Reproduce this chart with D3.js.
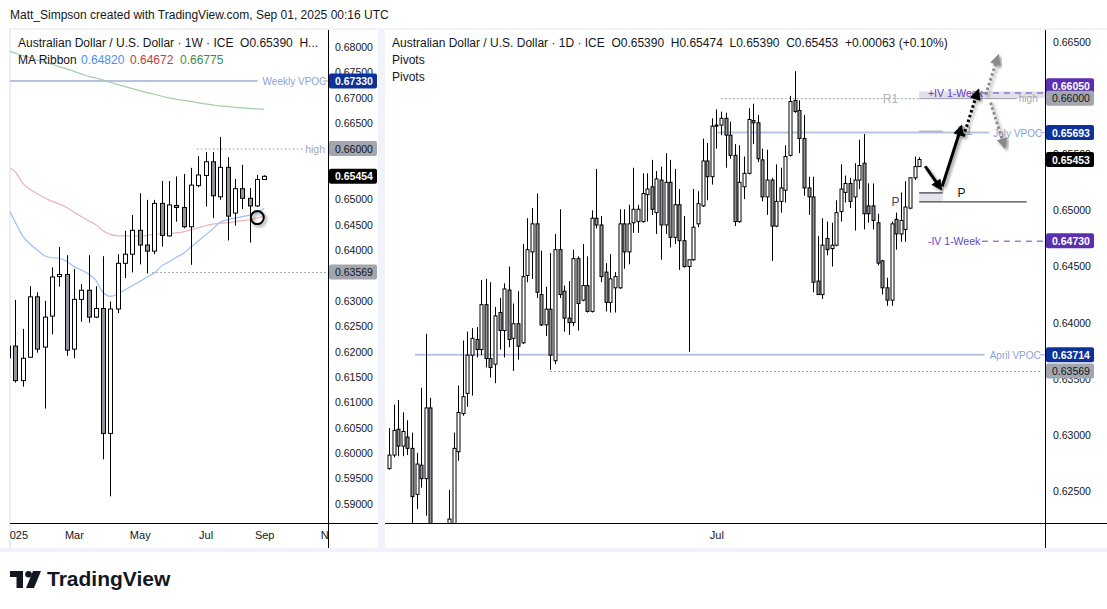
<!DOCTYPE html>
<html><head><meta charset="utf-8">
<script src="https://cdn.jsdelivr.net/npm/d3@7"></script>
<style>
body{margin:0;background:#fff;}
svg{display:block;}
text{font-family:"Liberation Sans",Arial,sans-serif;}
</style></head>
<body>
<svg id="c" width="1107" height="609"></svg>
<script>
// ---------------- DATA ----------------
// Weekly AUD/USD (first bar = week of 2024-12-30)
const weeklyStart = "2024-12-30";
const wOpen  = [0.6188,0.6211,0.6143,0.6189,0.6308,0.6209,0.6270,0.6348,0.6352,0.6205,0.6303,0.6321,0.6268,0.6285,0.6039,0.6284,0.6374,0.6392,0.6439,0.6410,0.6398,0.6492,0.6428,0.6488,0.6484,0.6446,0.6527,0.6547,0.6574,0.6505,0.6563,0.6473,0.6521,0.6502,0.6487,0.6539];
const wHigh  = [0.6240,0.6302,0.6245,0.6329,0.6317,0.6300,0.6366,0.6406,0.6390,0.6363,0.6333,0.6390,0.6329,0.6388,0.6299,0.6392,0.6438,0.6469,0.6512,0.6499,0.6499,0.6536,0.6536,0.6545,0.6550,0.6562,0.6585,0.6593,0.6593,0.6623,0.6583,0.6540,0.6568,0.6522,0.6548,0.65474];
const wLow   = [0.6180,0.6139,0.6131,0.6188,0.6198,0.6088,0.6234,0.6328,0.6192,0.6187,0.6259,0.6257,0.6266,0.5988,0.5915,0.6276,0.6345,0.6356,0.6372,0.6354,0.6392,0.6407,0.6427,0.6456,0.6443,0.6371,0.6524,0.6486,0.6463,0.6499,0.6419,0.6448,0.6481,0.6415,0.6485,0.6539];
const wClose = [0.6211,0.6143,0.6187,0.6308,0.6205,0.6268,0.6347,0.6352,0.6203,0.6303,0.6321,0.6268,0.6285,0.6039,0.6284,0.6374,0.6392,0.6439,0.6410,0.6398,0.6492,0.6429,0.6489,0.6484,0.6446,0.6528,0.6548,0.6574,0.6507,0.6563,0.6467,0.6521,0.6502,0.6487,0.6539,0.65454];
// MA Ribbon (weekly)
const maFast = [0.6483,0.6455,0.6428,0.6412,0.6400,0.6389,0.6385,0.6384,0.6378,0.6368,0.6361,0.6353,0.6341,0.6316,0.6309,0.6313,0.6322,0.6330,0.6338,0.6347,0.6355,0.6369,0.6377,0.6386,0.6394,0.6406,0.6418,0.6430,0.6442,0.6455,0.6460,0.6463,0.6466,0.6469,0.6474,0.64820];
const maMid  = [0.6564,0.6554,0.6532,0.6520,0.6511,0.6503,0.6496,0.6491,0.6484,0.6475,0.6466,0.6458,0.6450,0.6438,0.6431,0.6428,0.6428,0.6428,0.6428,0.6429,0.6431,0.6432,0.6433,0.6434,0.6436,0.6440,0.6444,0.6448,0.6451,0.6453,0.6454,0.6456,0.6458,0.6460,0.6463,0.64672];
const maSlow = [0.6793,0.6788,0.6783,0.6779,0.6774,0.6770,0.6766,0.6761,0.6757,0.6752,0.6747,0.6742,0.6739,0.6735,0.6730,0.6726,0.6722,0.6718,0.6714,0.6710,0.6707,0.6703,0.6700,0.6697,0.6695,0.6693,0.6690,0.6688,0.6686,0.6684,0.6683,0.6681,0.6680,0.6679,0.6678,0.66775];

// Daily AUD/USD (first bar = 2025-03-24, weekdays)
const dailyStart = "2025-03-24";
const dOpen  = [0.6270,0.6282,0.6305,0.6290,0.6298,0.6288,0.6247,0.6273,0.6261,0.6324,0.6040,0.6050,0.5975,0.6150,0.6215,0.6285,0.6319,0.6337,0.6371,0.6385,0.6376,0.6416,0.6368,0.6363,0.6409,0.6393,0.6429,0.6386,0.6399,0.6382,0.6442,0.6463,0.6488,0.6425,0.6398,0.6412,0.6366,0.6465,0.6428,0.6404,0.6400,0.6457,0.6420,0.6433,0.6410,0.6493,0.6487,0.6445,0.6418,0.6431,0.6431,0.6488,0.6463,0.6489,0.6490,0.6490,0.6514,0.6521,0.6498,0.6527,0.6487,0.6525,0.6476,0.6505,0.6473,0.6450,0.6456,0.6488,0.6504,0.6544,0.6530,0.6576,0.6576,0.6582,0.6567,0.6549,0.6490,0.6521,0.6533,0.6580,0.6578,0.6545,0.6512,0.6527,0.6486,0.6508,0.6518,0.6549,0.6598,0.6589,0.6564,0.6520,0.6512,0.6437,0.6425,0.6475,0.6466,0.6469,0.6499,0.6516,0.6524,0.6512,0.6527,0.6542,0.6504,0.6504,0.6489,0.6455,0.6431,0.6420,0.6492,0.6479,0.6483,0.6502,0.6529,0.6539];
const dHigh  = [0.6306,0.6327,0.6331,0.6320,0.6313,0.6302,0.6284,0.6342,0.6390,0.6333,0.6070,0.6100,0.6200,0.6251,0.6302,0.6344,0.6384,0.6392,0.6395,0.6396,0.6438,0.6439,0.6436,0.6414,0.6422,0.6435,0.6450,0.6417,0.6428,0.6470,0.6493,0.6502,0.6515,0.6464,0.6432,0.6462,0.6479,0.6501,0.6433,0.6437,0.6465,0.6459,0.6470,0.6459,0.6500,0.6537,0.6495,0.6453,0.6461,0.6445,0.6501,0.6501,0.6505,0.6538,0.6505,0.6533,0.6533,0.6545,0.6535,0.6539,0.6551,0.6545,0.6537,0.6519,0.6495,0.6456,0.6519,0.6517,0.6564,0.6560,0.6582,0.6590,0.6588,0.6587,0.6579,0.6559,0.6558,0.6548,0.6591,0.6595,0.6585,0.6555,0.6554,0.6529,0.6541,0.6538,0.6558,0.6602,0.6624,0.6598,0.6585,0.6530,0.6530,0.6477,0.6493,0.6490,0.6489,0.6509,0.6541,0.6531,0.6529,0.6542,0.6563,0.6568,0.6524,0.6524,0.6497,0.6456,0.6440,0.6490,0.6498,0.6516,0.6526,0.6529,0.6548,0.65474];
const dLow   = [0.6269,0.6280,0.6281,0.6281,0.6282,0.6210,0.6234,0.6253,0.6228,0.6030,0.5913,0.5960,0.5915,0.6120,0.6195,0.6277,0.6317,0.6325,0.6335,0.6369,0.6371,0.6360,0.6351,0.6346,0.6376,0.6369,0.6378,0.6357,0.6367,0.6381,0.6436,0.6439,0.6422,0.6397,0.6388,0.6358,0.6363,0.6422,0.6392,0.6389,0.6397,0.6393,0.6419,0.6409,0.6409,0.6484,0.6436,0.6410,0.6409,0.6409,0.6430,0.6448,0.6452,0.6480,0.6480,0.6489,0.6490,0.6496,0.6479,0.6456,0.6479,0.6467,0.6470,0.6447,0.6449,0.6374,0.6455,0.6485,0.6503,0.6509,0.6523,0.6555,0.6567,0.6538,0.6546,0.6486,0.6489,0.6510,0.6532,0.6559,0.6543,0.6508,0.6496,0.6455,0.6485,0.6498,0.6507,0.6548,0.6587,0.6551,0.6513,0.6496,0.6427,0.6425,0.6421,0.6460,0.6450,0.6468,0.6490,0.6507,0.6502,0.6482,0.6519,0.6483,0.6489,0.6483,0.6451,0.6425,0.6415,0.6415,0.6465,0.6472,0.6472,0.6501,0.6527,0.6539];
const dClose = [0.6282,0.6304,0.6290,0.6303,0.6288,0.6245,0.6274,0.6261,0.6324,0.6040,0.6050,0.5975,0.6150,0.6225,0.6288,0.6320,0.6334,0.6371,0.6386,0.6376,0.6416,0.6368,0.6360,0.6406,0.6393,0.6430,0.6385,0.6399,0.6379,0.6441,0.6465,0.6488,0.6427,0.6398,0.6412,0.6371,0.6465,0.6425,0.6404,0.6400,0.6457,0.6417,0.6433,0.6410,0.6493,0.6487,0.6441,0.6418,0.6439,0.6441,0.6488,0.6463,0.6488,0.6501,0.6501,0.6515,0.6519,0.6501,0.6528,0.6487,0.6525,0.6476,0.6505,0.6473,0.6450,0.6456,0.6485,0.6506,0.6544,0.6530,0.6575,0.6575,0.6582,0.6567,0.6549,0.6490,0.6525,0.6533,0.6581,0.6578,0.6546,0.6512,0.6527,0.6486,0.6508,0.6520,0.6548,0.6597,0.6588,0.6564,0.6520,0.6512,0.6436,0.6425,0.6469,0.6465,0.6469,0.6498,0.6519,0.6524,0.6508,0.6527,0.6540,0.6497,0.6497,0.6491,0.6453,0.6431,0.6420,0.6488,0.6479,0.6491,0.6503,0.6529,0.6539,0.65453];

// Axis tick labels
const leftPriceTicks  = [0.59,0.595,0.60,0.605,0.61,0.615,0.62,0.625,0.63,0.635,0.64,0.645,0.65,0.655,0.66,0.665,0.67,0.675,0.68];
const rightPriceTicks = [0.625,0.63,0.635,0.64,0.645,0.65,0.655,0.66,0.665];
const leftTimeLabels  = ["2025","Mar","May","Jul","Sep","Nov"];
const leftTimeDates   = ["2025-01-06","2025-03-03","2025-05-05","2025-07-07","2025-09-01","2025-11-03"];
const rightTimeLabels = ["Jul"];
const rightTimeDates  = ["2025-07-01"];

// Key levels
const weeklyVPOC = 0.67330, highLevel = 0.66000, aprLowLevel = 0.63569;
const julyVPOC = 0.65693, aprilVPOC = 0.63714, ivUpper = 0.66050, ivLower = 0.64730;
const pivotP = 0.6508, pivotZoneTop = 0.6516, pivotR1 = 0.6571, lastWeekly = 0.65454, lastDaily = 0.65453;

// ---------------- SCALES ----------------
const xW = d3.scaleLinear().domain([0, 35]).range([8, 264.2]);
const yW = d3.scaleLinear().domain([0.59, 0.68]).range([504, 47]);
const xD = d3.scaleLinear().domain([0, 115]).range([389, 919.2]);
const yD = d3.scaleLinear().domain([0.625, 0.665]).range([491, 42]);

const dDates = d3.utcDay.range(new Date(dailyStart), new Date("2025-12-31")).filter(d => d.getUTCDay() % 6 !== 0);
const wIndex = s => d3.utcMonday.count(new Date(weeklyStart), new Date(s));
const dIndex = s => dDates.findIndex(d => +d === +new Date(s));

const svg = d3.select("#c");
const defs = svg.append("defs");
defs.append("clipPath").attr("id","clipL").append("rect").attr("x",10).attr("y",30).attr("width",318).attr("height",493);
defs.append("clipPath").attr("id","clipR").append("rect").attr("x",386).attr("y",30).attr("width",659).attr("height",493);
defs.append("clipPath").attr("id","clipLT").append("rect").attr("x",10).attr("y",524).attr("width",318).attr("height",24);
const sh = defs.append("filter").attr("id","sh").attr("x","-50%").attr("y","-50%").attr("width","200%").attr("height","200%");
sh.append("feDropShadow").attr("dx",2).attr("dy",2).attr("stdDeviation",1.6).attr("flood-color","#000").attr("flood-opacity",0.4);
const bl = defs.append("filter").attr("id","bl").attr("x","-20%").attr("y","-200%").attr("width","140%").attr("height","500%");
bl.append("feGaussianBlur").attr("stdDeviation",0.8);
function marker(id, col){
  defs.append("marker").attr("id",id).attr("viewBox","0 0 10 10").attr("refX",2).attr("refY",5)
    .attr("markerUnits","userSpaceOnUse").attr("markerWidth",12).attr("markerHeight",11).attr("orient","auto")
    .append("path").attr("d","M0,0 L10,5 L0,10 Z").attr("fill",col);
}
marker("ahB","#000"); marker("ahG","#8a8a8a");

// ---------------- FRAME ----------------
svg.append("rect").attr("x",0).attr("y",0).attr("width",1107).attr("height",609).attr("fill","#fff");
svg.append("rect").attr("x",378).attr("y",30).attr("width",7).attr("height",520).attr("fill","#f0f3fa");
svg.append("rect").attr("x",0).attr("y",548).attr("width",1107).attr("height",4).attr("fill","#f0f3fa");
svg.append("rect").attr("x",9).attr("y",29).attr("width",2).attr("height",520).attr("fill","#eceef2");
svg.append("rect").attr("x",9).attr("y",28).attr("width",1098).attr("height",2).attr("fill","#f0f3fa");

// ---------------- HEADER ----------------
svg.append("text").attr("x",10).attr("y",19).attr("font-size",12).attr("fill","#131722")
  .text("Matt_Simpson created with TradingView.com, Sep 01, 2025 00:16 UTC");

// ---------------- CANDLE HELPER ----------------
function drawCandles(g, O, H, L, C, x, y, bw, downFill){
  const idx = d3.range(O.length);
  g.selectAll("line.wick").data(idx).join("line").attr("class","wick")
    .attr("x1", i => Math.round(x(i)) + 0.5).attr("x2", i => Math.round(x(i)) + 0.5)
    .attr("y1", i => y(H[i])).attr("y2", i => y(L[i])).attr("stroke","#000").attr("stroke-width",1);
  g.selectAll("rect.body").data(idx).join("rect").attr("class","body")
    .attr("x", i => Math.round(x(i)) + 0.5 - bw/2)
    .attr("y", i => y(Math.max(O[i], C[i])))
    .attr("width", bw)
    .attr("height", i => Math.max(1, y(Math.min(O[i], C[i])) - y(Math.max(O[i], C[i]))))
    .attr("fill", i => C[i] >= O[i] ? "#ffffff" : downFill)
    .attr("stroke","#000").attr("stroke-width",1);
}

// ---------------- LEFT PANEL (weekly) ----------------
const gL = svg.append("g").attr("clip-path","url(#clipL)");
gL.append("line").attr("x1",10).attr("x2",xW(34.1)).attr("y1",yW(weeklyVPOC)).attr("y2",yW(weeklyVPOC))
  .attr("stroke","#b7c3e0").attr("stroke-width",2);
gL.append("text").attr("x",xW(34.1)+5).attr("y",yW(weeklyVPOC)+4).attr("font-size",10).attr("fill","#8d9fd1").text("Weekly VPOC");
gL.append("line").attr("x1",323).attr("x2",328).attr("y1",yW(weeklyVPOC)).attr("y2",yW(weeklyVPOC)).attr("stroke","#b7c3e0").attr("stroke-width",1.5);
gL.append("line").attr("x1",xW(25.8)).attr("x2",xW(40.4)).attr("y1",yW(highLevel)+0.5).attr("y2",yW(highLevel)+0.5)
  .attr("stroke","#8f929b").attr("stroke-dasharray","1.5,2.5");
gL.append("text").attr("x",xW(40.6)).attr("y",yW(highLevel)+4).attr("font-size",10.5).attr("fill","#a3a6af").text("high");
gL.append("line").attr("x1",xW(19.7)).attr("x2",328).attr("y1",yW(aprLowLevel)+0.5).attr("y2",yW(aprLowLevel)+0.5)
  .attr("stroke","#8f929b").attr("stroke-dasharray","1.5,2.5");
const maLine = arr => d3.line().x((d,i)=>xW(i)).y(d=>yW(d)).curve(d3.curveMonotoneX)(arr);
gL.append("path").attr("d",maLine(maSlow)).attr("fill","none").attr("stroke","#9fd0a5").attr("stroke-width",1.2);
gL.append("path").attr("d",maLine(maMid)).attr("fill","none").attr("stroke","#ebb3b5").attr("stroke-width",1.2);
gL.append("path").attr("d",maLine(maFast)).attr("fill","none").attr("stroke","#98bff7").attr("stroke-width",1.2);
drawCandles(gL.append("g"), wOpen, wHigh, wLow, wClose, xW, yW, 4, "#8f939c");
gL.append("line").attr("x1",xW(28.6)).attr("x2",xW(34.4)).attr("y1",yW(0.6423)).attr("y2",yW(0.6423))
  .attr("stroke","#9c9c9c").attr("stroke-width",3).attr("filter","url(#bl)");
gL.append("circle").attr("cx",xW(34.06)).attr("cy",yW(0.6464)).attr("r",6.5)
  .attr("fill","none").attr("stroke","#000").attr("stroke-width",2).attr("filter","url(#sh)");

// legend left
svg.append("text").attr("x",18).attr("y",47).attr("font-size",12).attr("fill","#131722").attr("xml:space","preserve")
  .text("Australian Dollar / U.S. Dollar · 1W · ICE  O0.65390  H...");
const ma = svg.append("text").attr("x",18).attr("y",64).attr("font-size",12).attr("fill","#131722");
ma.append("tspan").text("MA Ribbon");
ma.append("tspan").attr("x",81).attr("fill","#4a8ef5").text(maFast[maFast.length-1].toFixed(5));
ma.append("tspan").attr("x",130).attr("fill","#c8383c").text(maMid[maMid.length-1].toFixed(5));
ma.append("tspan").attr("x",180).attr("fill","#3c8d40").text(maSlow[maSlow.length-1].toFixed(5));

// ---------------- PRICE LABEL BOXES (definitions) ----------------
const leftBoxes = [
  {v:weeklyVPOC, bg:"#0c3299", fg:"#fff", bold:true},
  {v:highLevel, bg:"#a3a6af", fg:"#131722"},
  {v:lastWeekly, bg:"#000", fg:"#fff", bold:true},
  {v:aprLowLevel, bg:"#a3a6af", fg:"#131722"}
];
const rightBoxes = [
  {v:ivUpper, bg:"#5b2fb0", fg:"#fff", bold:true, shift:true},
  {v:highLevel, bg:"#a3a6af", fg:"#131722"},
  {v:julyVPOC, bg:"#0c3299", fg:"#fff", bold:true},
  {v:lastDaily, bg:"#000", fg:"#fff", bold:true},
  {v:ivLower, bg:"#5b2fb0", fg:"#fff", bold:true},
  {v:aprilVPOC, bg:"#0c3299", fg:"#fff", bold:true},
  {v:aprLowLevel, bg:"#a3a6af", fg:"#131722"}
];
// keep only ticks not hidden under a label box
const visibleTicks = (ticks, bx, y) => ticks.filter(t => bx.every(b => Math.abs(y(t) - y(b.v)) > 5));

// left axes
svg.append("line").attr("x1",328.5).attr("x2",328.5).attr("y1",30).attr("y2",548).attr("stroke","#000");
svg.append("line").attr("x1",10).attr("x2",378).attr("y1",523.5).attr("y2",523.5).attr("stroke","#000");
const axL = svg.append("g").attr("transform","translate(328,0)")
  .call(d3.axisRight(yW).tickValues(visibleTicks(leftPriceTicks, leftBoxes, yW)).tickFormat(d3.format(".5f")).tickSize(0).tickPadding(7));
axL.select(".domain").remove();
axL.selectAll("text").attr("font-family","Liberation Sans, Arial, sans-serif").attr("font-size",10.5).attr("fill","#131722");
const axLT = svg.append("g").attr("clip-path","url(#clipLT)").append("g").attr("transform","translate(0,523)")
  .call(d3.axisBottom(xW).tickValues(leftTimeDates.map(wIndex)).tickFormat((d,i)=>leftTimeLabels[i]).tickSize(0).tickPadding(8));
axLT.select(".domain").remove();
axLT.selectAll("text").attr("font-family","Liberation Sans, Arial, sans-serif").attr("font-size",11).attr("fill","#131722");

// ---------------- RIGHT PANEL (daily) ----------------
const gR = svg.append("g").attr("clip-path","url(#clipR)");
gR.append("line").attr("x1",xD(5.6)).attr("x2",xD(129.2)).attr("y1",yD(aprilVPOC)).attr("y2",yD(aprilVPOC)).attr("stroke","#b7c3e0").attr("stroke-width",2);
gR.append("text").attr("x",xD(129.2)+5).attr("y",yD(aprilVPOC)+4).attr("font-size",10).attr("fill","#8d9fd1").text("April VPOC");
gR.append("line").attr("x1",xD(dIndex("2025-07-01"))).attr("x2",xD(130.2)).attr("y1",yD(julyVPOC)).attr("y2",yD(julyVPOC)).attr("stroke","#b7c3e0").attr("stroke-width",2);
gR.append("text").attr("x",xD(130.2)+4).attr("y",yD(julyVPOC)+4).attr("font-size",10).attr("fill","#8d9fd1").text("July VPOC");
gR.append("line").attr("x1",1040).attr("x2",1045).attr("y1",yD(julyVPOC)).attr("y2",yD(julyVPOC)).attr("stroke","#b7c3e0").attr("stroke-width",1.5);
gR.append("line").attr("x1",1040).attr("x2",1045).attr("y1",yD(aprilVPOC)).attr("y2",yD(aprilVPOC)).attr("stroke","#b7c3e0").attr("stroke-width",1.5);
gR.append("line").attr("x1",xD(35)).attr("x2",1041).attr("y1",yD(aprLowLevel)+0.5).attr("y2",yD(aprLowLevel)+0.5).attr("stroke","#8f929b").attr("stroke-dasharray","1.5,2.5");
gR.append("rect").attr("x",xD(115)).attr("y",yD(ivUpper+0.00009)).attr("width",1045-xD(115)).attr("height",yD(highLevel)-yD(ivUpper+0.00009)).attr("fill","#dfe0e9");
gR.append("line").attr("x1",xD(72)).attr("x2",xD(115)).attr("y1",yD(highLevel)+0.5).attr("y2",yD(highLevel)+0.5).attr("stroke","#8f929b").attr("stroke-dasharray","1.5,2.5");
gR.append("line").attr("x1",xD(115)).attr("x2",xD(136.2)).attr("y1",yD(highLevel)+0.5).attr("y2",yD(highLevel)+0.5).attr("stroke","#9a9da6");
gR.append("text").attr("x",xD(136.6)).attr("y",yD(highLevel)+4).attr("font-size",10).attr("fill","#a3a6af").text("high");
gR.append("text").attr("x",xD(107.1)).attr("y",yD(highLevel)+4.5).attr("font-size",12).attr("fill","#b0b3bb").text("R1");
[[ivUpper,"+IV 1-Week"],[ivLower,"-IV 1-Week"]].forEach(([v,t])=>{
  gR.append("text").attr("x",xD(116.9)).attr("y",yD(v)+4).attr("font-size",10.5).attr("fill","#6a3fc0").text(t);
  gR.append("line").attr("x1",xD(128.6)).attr("x2",1043).attr("y1",yD(v)+0.5).attr("y2",yD(v)+0.5).attr("stroke","#6a3fc0").attr("stroke-dasharray","6,5");
});
gR.append("line").attr("x1",xD(115)).attr("x2",xD(120.1)).attr("y1",yD(pivotR1)+0.5).attr("y2",yD(pivotR1)+0.5).attr("stroke","#9a9da6");
gR.append("text").attr("x",xD(123.2)).attr("y",yD(pivotR1)+4.5).attr("font-size",12).attr("fill","#a3a6af").text("R1");
gR.append("rect").attr("x",xD(115)).attr("y",yD(pivotZoneTop)).attr("width",xD(120.1)-xD(115)).attr("height",yD(pivotP)-yD(pivotZoneTop)).attr("fill","#e3e5eb");
gR.append("line").attr("x1",xD(115)).attr("x2",xD(120.1)).attr("y1",yD(pivotZoneTop)+0.5).attr("y2",yD(pivotZoneTop)+0.5).attr("stroke","#131722");
gR.append("line").attr("x1",xD(115)).attr("x2",xD(138.3)).attr("y1",yD(pivotP)+0.5).attr("y2",yD(pivotP)+0.5).attr("stroke","#131722");
gR.append("text").attr("x",xD(123.3)).attr("y",yD(pivotP)-4.5).attr("font-size",12).attr("fill","#131722").text("P");
gR.append("text").attr("x",xD(109.0)).attr("y",yD(pivotP)+4.5).attr("font-size",12).attr("fill","#434651").text("P");
drawCandles(gR.append("g"), dOpen, dHigh, dLow, dClose, xD, yD, 3, "#8f939c");
const arrows = [
  {a:[116.3,0.65393], b:[118.9,0.65240], col:"#000", m:"ahB", dash:null},
  {a:[120.0,0.65215], b:[123.7,0.65690], col:"#000", m:"ahB", dash:null},
  {a:[124.6,0.65660], b:[127.3,0.66010], col:"#000", m:"ahB", dash:"2.5,2.5"},
  {a:[129.4,0.66030], b:[131.7,0.66320], col:"#8a8a8a", m:"ahG", dash:"2.5,2.5"},
  {a:[130.5,0.65960], b:[133.1,0.65620], col:"#8a8a8a", m:"ahG", dash:"2.5,2.5"}
];
arrows.forEach(r=>{
  const ln = gR.append("line").attr("x1",xD(r.a[0])).attr("y1",yD(r.a[1])).attr("x2",xD(r.b[0])).attr("y2",yD(r.b[1]))
    .attr("stroke",r.col).attr("stroke-width",3).attr("marker-end","url(#"+r.m+")").attr("filter","url(#sh)");
  if(r.dash) ln.attr("stroke-dasharray",r.dash);
});

// legend right
svg.append("text").attr("x",392).attr("y",47).attr("font-size",12).attr("fill","#131722").attr("xml:space","preserve")
  .text("Australian Dollar / U.S. Dollar · 1D · ICE  O0.65390  H0.65474  L0.65390  C0.65453  +0.00063 (+0.10%)");
svg.append("text").attr("x",392).attr("y",64).attr("font-size",12).attr("fill","#131722").text("Pivots");
svg.append("text").attr("x",392).attr("y",81).attr("font-size",12).attr("fill","#131722").text("Pivots");

// right axes
svg.append("line").attr("x1",1045.5).attr("x2",1045.5).attr("y1",30).attr("y2",548).attr("stroke","#000");
svg.append("line").attr("x1",385).attr("x2",1107).attr("y1",523.5).attr("y2",523.5).attr("stroke","#000");
const axR = svg.append("g").attr("transform","translate(1045,0)")
  .call(d3.axisRight(yD).tickValues(visibleTicks(rightPriceTicks, rightBoxes, yD)).tickFormat(d3.format(".5f")).tickSize(0).tickPadding(8));
axR.select(".domain").remove();
axR.selectAll("text").attr("font-family","Liberation Sans, Arial, sans-serif").attr("font-size",10.5).attr("fill","#131722");
const axRT = svg.append("g").attr("transform","translate(0,523)")
  .call(d3.axisBottom(xD).tickValues(rightTimeDates.map(dIndex)).tickFormat((d,i)=>rightTimeLabels[i]).tickSize(0).tickPadding(8));
axRT.select(".domain").remove();
axRT.selectAll("text").attr("font-family","Liberation Sans, Arial, sans-serif").attr("font-size",11).attr("fill","#131722");

// ---------------- PRICE LABEL BOXES ----------------
function boxes(list, x0, w, y){
  const items = list.map(d=>({...d, yy:y(d.v)}));
  const sorted = items.slice().sort((a,b)=>b.yy-a.yy);
  for(let i=1;i<sorted.length;i++){ if(sorted[i-1].yy - sorted[i].yy < 13 && sorted[i].shift) sorted[i].yy = sorted[i-1].yy - 12.5; }
  items.forEach(d=>{
    svg.append("rect").attr("x",x0).attr("y",d.yy-7.5).attr("width",w).attr("height",15).attr("rx",2).attr("fill",d.bg);
    svg.append("text").attr("x",x0+6).attr("y",d.yy+4).attr("font-size",10.5).attr("font-weight",d.bold?"bold":"normal")
      .attr("fill",d.fg).text(d.v.toFixed(5));
  });
}
boxes(leftBoxes, 329, 48, yW);
boxes(rightBoxes, 1046, 48, yD);

// ---------------- LOGO ----------------
const logo = svg.append("g").attr("fill","#131722");
logo.append("path").attr("d","M10,571 H23 V588 H16.5 V577 H10 Z");
logo.append("circle").attr("cx",28.5).attr("cy",574.3).attr("r",3.3);
logo.append("path").attr("d","M33,571 H41 L34,588 H26 Z");
svg.append("text").attr("x",47).attr("y",586).attr("font-size",21).attr("font-weight","bold").attr("fill","#131722").text("TradingView");
</script>
</body></html>
